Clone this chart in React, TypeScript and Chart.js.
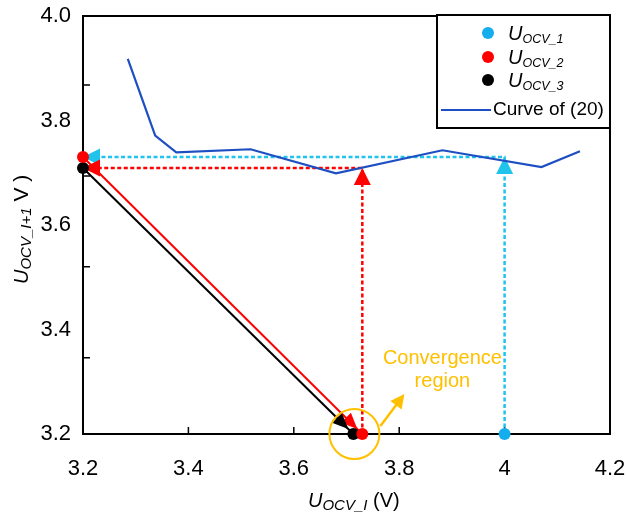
import React, { useEffect, useRef } from "react";
import { Chart, registerables } from "chart.js";

Chart.register(...registerables);

// ---------- data ----------
const xTickValues = [3.2, 3.4, 3.6, 3.8, 4.0, 4.2];
const xTickLabels = ["3.2", "3.4", "3.6", "3.8", "4", "4.2"];
const yTickValues = [3.2, 3.4, 3.6, 3.8, 4.0];
const yTickLabels = ["3.2", "3.4", "3.6", "3.8", "4.0"];
const xInnerTicks = [3.4, 3.6, 3.8, 4.0];
const yInnerTicks = [3.346, 3.52, 3.694, 3.868];

// Curve of (20)
const curveX = [3.285, 3.337, 3.377, 3.518, 3.68, 3.882, 4.07, 4.143];
const curveY = [3.918, 3.771, 3.739, 3.745, 3.699, 3.743, 3.711, 3.741];

// iteration points
const u1X = [4.0];
const u1Y = [3.2];
const u2X = [3.2, 3.73];
const u2Y = [3.73, 3.2];
const u3X = [3.2, 3.713];
const u3Y = [3.709, 3.2];

// iteration paths
const cyanPathX = [4.0, 4.0, 3.2];
const cyanPathY = [3.2, 3.73, 3.73];
const redDotPathX = [3.73, 3.73, 3.2];
const redDotPathY = [3.2, 3.709, 3.709];
const redDiagX = [3.2, 3.73];
const redDiagY = [3.73, 3.2];
const blackDiagX = [3.2, 3.713];
const blackDiagY = [3.709, 3.2];

// convergence region centre
const regionX = [3.715];
const regionY = [3.2];

const legendLabels = ["OCV_1", "OCV_2", "OCV_3"];
const curveLabel = "Curve of (20)";

// ---------- styles ----------
const FONT = "Arial, 'Liberation Sans', Helvetica, sans-serif";
const CYAN_LINE = "#1FC3EC";
const CYAN_DOT = "#14AEEF";
const RED = "#FF0000";
const BLACK = "#000000";
const BLUE = "#1E4FC2";
const ORANGE = "#FFC000";

const pts = (xs: number[], ys: number[]) => xs.map((x, i) => ({ x, y: ys[i] }));

function triangle(ctx: CanvasRenderingContext2D, tx: number, ty: number, ux: number, uy: number, len: number, half: number, color: string) {
  const bx = tx - ux * len;
  const by = ty - uy * len;
  const px = -uy;
  const py = ux;
  ctx.save();
  ctx.setLineDash([]);
  ctx.fillStyle = color;
  ctx.beginPath();
  ctx.moveTo(tx, ty);
  ctx.lineTo(bx + px * half, by + py * half);
  ctx.lineTo(bx - px * half, by - py * half);
  ctx.closePath();
  ctx.fill();
  ctx.restore();
}

type Part = { text: string; font: string; dy?: number };
function drawRich(ctx: CanvasRenderingContext2D, x: number, y: number, parts: Part[], color: string) {
  ctx.save();
  ctx.fillStyle = color;
  ctx.textBaseline = "alphabetic";
  ctx.textAlign = "left";
  let cx = x;
  for (const p of parts) {
    ctx.font = p.font;
    ctx.fillText(p.text, cx, y + (p.dy || 0));
    cx += ctx.measureText(p.text).width;
  }
  ctx.restore();
  return cx - x;
}

const arrowPlugin = {
  id: "arrowHeads",
  afterDatasetDraw(chart: any, args: any) {
    const ds: any = chart.data.datasets[args.index];
    if (!ds.arrowAt) return;
    const ctx = chart.ctx;
    const data = args.meta.data;
    for (const i of ds.arrowAt) {
      const p = data[i];
      const q = data[i - 1];
      const dx = p.x - q.x;
      const dy = p.y - q.y;
      const d = Math.hypot(dx, dy) || 1;
      const ux = dx / d;
      const uy = dy / d;
      const back = ds.arrowBack || 0;
      triangle(ctx, p.x - ux * back, p.y - uy * back, ux, uy, ds.arrowLen || 17, ds.arrowHalf || 8, ds.arrowColor || ds.borderColor);
    }
  },
};

const framePlugin = {
  id: "frame",
  beforeDatasetsDraw(chart: any) {
    const { ctx, chartArea: a, scales } = chart;
    ctx.save();
    ctx.strokeStyle = "#000";
    ctx.lineWidth = 2;
    ctx.strokeRect(a.left, a.top, a.right - a.left, a.bottom - a.top);
    ctx.lineWidth = 1.5;
    ctx.beginPath();
    for (const v of xInnerTicks) {
      const x = scales.x.getPixelForValue(v);
      ctx.moveTo(x, a.bottom);
      ctx.lineTo(x, a.bottom - 7);
    }
    for (const v of yInnerTicks) {
      const y = scales.y.getPixelForValue(v);
      ctx.moveTo(a.left, y);
      ctx.lineTo(a.left + 7, y);
    }
    ctx.stroke();
    ctx.restore();
  },
};

const annotationPlugin = {
  id: "regionNote",
  afterDatasetsDraw(chart: any) {
    const { ctx, scales } = chart;
    const cx = scales.x.getPixelForValue(regionX[0]);
    const cy = scales.y.getPixelForValue(regionY[0]);
    ctx.save();
    ctx.strokeStyle = ORANGE;
    ctx.lineWidth = 2;
    ctx.beginPath();
    ctx.arc(cx, cy, 25, 0, Math.PI * 2);
    ctx.stroke();
    // arrow
    const sx = cx + 26, sy = cy - 8;
    const ex = cx + 50, ey = cy - 40;
    const d = Math.hypot(ex - sx, ey - sy);
    const ux = (ex - sx) / d, uy = (ey - sy) / d;
    ctx.lineWidth = 2.5;
    ctx.beginPath();
    ctx.moveTo(sx, sy);
    ctx.lineTo(ex - ux * 8, ey - uy * 8);
    ctx.stroke();
    triangle(ctx, ex, ey, ux, uy, 14, 7, ORANGE);
    ctx.fillStyle = ORANGE;
    ctx.font = `20px ${FONT}`;
    ctx.textAlign = "center";
    ctx.textBaseline = "middle";
    ctx.fillText("Convergence", cx + 88, cy - 76);
    ctx.fillText("region", cx + 88, cy - 53);
    ctx.restore();
  },
};

const legendPlugin = {
  id: "customLegend",
  afterDraw(chart: any) {
    const { ctx, chartArea: a } = chart;
    const w = 173, h = 113;
    const left = a.right - w, top = a.top - 1;
    ctx.save();
    ctx.fillStyle = "#fff";
    ctx.fillRect(left, top, w, h);
    ctx.strokeStyle = "#000";
    ctx.lineWidth = 2;
    ctx.strokeRect(left, top, w, h);
    const colors = [CYAN_DOT, RED, BLACK];
    const rowY = [33, 57, 80];
    legendLabels.forEach((lab, i) => {
      const y = top + rowY[i] - 15;
      ctx.fillStyle = colors[i];
      ctx.beginPath();
      ctx.arc(left + 51, y, 6, 0, Math.PI * 2);
      ctx.fill();
      drawRich(ctx, left + 71, y + 6.5, [
        { text: "U", font: `italic 20px ${FONT}` },
        { text: lab, font: `italic 12.5px ${FONT}`, dy: 3 },
      ], "#000");
    });
    const ly = top + 95;
    ctx.strokeStyle = BLUE;
    ctx.lineWidth = 2;
    ctx.beginPath();
    ctx.moveTo(left + 4, ly);
    ctx.lineTo(left + 54, ly);
    ctx.stroke();
    ctx.fillStyle = "#000";
    ctx.font = `19px ${FONT}`;
    ctx.textAlign = "left";
    ctx.textBaseline = "middle";
    ctx.fillText(curveLabel, left + 56, ly);
    ctx.restore();
  },
};

const titlePlugin = {
  id: "axisTitles",
  afterDraw(chart: any) {
    const { ctx } = chart;
    // x title
    drawRich(ctx, 308, 507, [
      { text: "U", font: `italic 20px ${FONT}` },
      { text: "OCV_I", font: `italic 15px ${FONT}`, dy: 3 },
      { text: " (V)", font: `20px ${FONT}` },
    ], "#000");
    // y title
    ctx.save();
    ctx.translate(28, 284);
    ctx.rotate(-Math.PI / 2);
    drawRich(ctx, 0, 0, [
      { text: "U", font: `italic 20px ${FONT}` },
      { text: "OCV_I+1", font: `italic 15px ${FONT}`, dy: 3 },
      { text: " V )", font: `21px ${FONT}` },
    ], "#000");
    ctx.restore();
  },
};

const zeroPadding = (s: any) => {
  s.paddingLeft = 0;
  s.paddingRight = 0;
  s.paddingTop = 0;
  s.paddingBottom = 0;
};

export default function App() {
  const ref = useRef<HTMLCanvasElement>(null);
  useEffect(() => {
    const canvas = ref.current;
    if (!canvas) return;
    const tickFont = { family: FONT, size: 22 };
    const chart = new Chart(canvas, {
      type: "scatter",
      data: {
        datasets: [
          { label: "U_OCV_1", data: pts(u1X, u1Y), backgroundColor: CYAN_DOT, borderColor: CYAN_DOT, pointRadius: 6, pointBorderWidth: 0, clip: false } as any,
          { label: "U_OCV_2", data: pts(u2X, u2Y), backgroundColor: RED, borderColor: RED, pointRadius: 6, pointBorderWidth: 0, clip: false } as any,
          { label: "U_OCV_3", data: pts(u3X, u3Y), backgroundColor: BLACK, borderColor: BLACK, pointRadius: 6, pointBorderWidth: 0, clip: false } as any,
          { label: "Curve of (20)", data: pts(curveX, curveY), showLine: true, borderColor: BLUE, borderWidth: 2.2, pointRadius: 0, tension: 0, clip: false } as any,
          { label: "black diag", data: pts(blackDiagX, blackDiagY), showLine: true, borderColor: BLACK, borderWidth: 2, pointRadius: 0, clip: false, arrowAt: [1], arrowBack: 7, arrowLen: 16, arrowHalf: 7 } as any,
          { label: "red diag", data: pts(redDiagX, redDiagY), showLine: true, borderColor: RED, borderWidth: 2, pointRadius: 0, clip: false, arrowAt: [1], arrowBack: 7, arrowLen: 16, arrowHalf: 7 } as any,
          { label: "red path", data: pts(redDotPathX, redDotPathY), showLine: true, borderColor: RED, borderWidth: 2.5, borderDash: [4, 2.5], pointRadius: 0, clip: false, arrowAt: [1, 2], arrowBack: 0, arrowLen: 17, arrowHalf: 8.5 } as any,
          { label: "cyan path", data: pts(cyanPathX, cyanPathY), showLine: true, borderColor: CYAN_LINE, borderWidth: 2.5, borderDash: [4, 2.5], pointRadius: 0, clip: false, arrowAt: [1, 2], arrowBack: 0, arrowLen: 17, arrowHalf: 8.5 } as any,
        ],
      },
      options: {
        animation: false,
        responsive: false,
        devicePixelRatio: 1,
        events: [],
        layout: { padding: { top: 16, right: 17, left: 0, bottom: 0 } },
        plugins: { legend: { display: false }, tooltip: { enabled: false } },
        scales: {
          x: {
            type: "linear",
            min: 3.2,
            max: 4.2,
            grid: { display: false, drawTicks: false },
            border: { display: false },
            afterBuildTicks: (s: any) => { s.ticks = xTickValues.map((v) => ({ value: v })); },
            afterFit: (s: any) => { s.height = 82; zeroPadding(s); },
            ticks: { padding: 22, font: tickFont, color: "#000", maxRotation: 0, autoSkip: false, callback: (_v: any, i: number) => xTickLabels[i] },
          },
          y: {
            type: "linear",
            min: 3.2,
            max: 4.0,
            grid: { display: false, drawTicks: false },
            border: { display: false },
            afterBuildTicks: (s: any) => { s.ticks = yTickValues.map((v) => ({ value: v })); },
            afterFit: (s: any) => { s.width = 83; zeroPadding(s); },
            ticks: { padding: 12, font: tickFont, color: "#000", autoSkip: false, callback: (_v: any, i: number) => yTickLabels[i] },
          },
        },
      } as any,
      plugins: [framePlugin, arrowPlugin, annotationPlugin, legendPlugin, titlePlugin],
    });
    return () => chart.destroy();
  }, []);
  return (
    <div style={{ position: "absolute", left: 0, top: 0, width: 627, height: 516, background: "#fff" }}>
      <canvas ref={ref} width={627} height={516} style={{ display: "block", width: 627, height: 516 }} />
    </div>
  );
}
